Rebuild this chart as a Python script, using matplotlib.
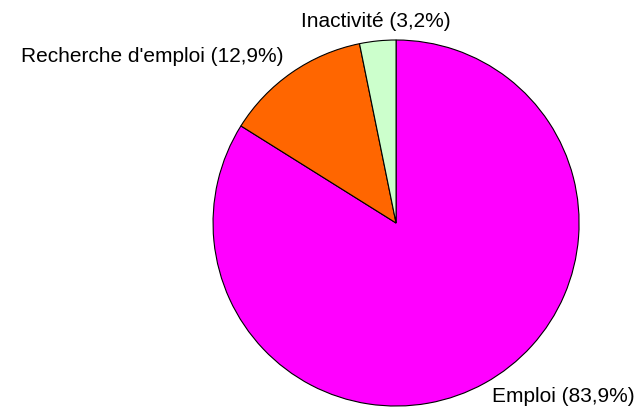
import matplotlib
matplotlib.use('Agg')
import matplotlib.pyplot as plt

categories = ['Emploi', 'Recherche d\'emploi', 'Inactivité']
values = [83.9, 12.9, 3.2]
colors = ['#FF00FF', '#FF6600', '#CCFFCC']

plt.rcParams['font.family'] = ['Liberation Sans', 'DejaVu Sans']

fig = plt.figure(figsize=(6.36, 4.14), dpi=100)
ax = fig.add_axes([0, 0, 1, 1])

labels = [f'{c} ({v:.1f}%)'.replace('.', ',') for c, v in zip(categories, values)]

wedges, texts = ax.pie(values, labels=labels, colors=colors, startangle=90,
                       counterclock=False, labeldistance=1.08,
                       wedgeprops={'edgecolor': 'black', 'linewidth': 0.8},
                       textprops={'fontsize': 15})

# alignement des etiquettes
texts[0].set_ha('left')
texts[0].set_va('center')
texts[1].set_ha('right')
texts[1].set_va('baseline')
texts[2].set_ha('center')
texts[2].set_va('baseline')

ax.set_aspect('equal')
ax.set_xlim(-2.164, 1.311)
ax.set_ylim(-1.038, 1.224)
ax.axis('off')

fig.savefig('out.png', dpi=100)
